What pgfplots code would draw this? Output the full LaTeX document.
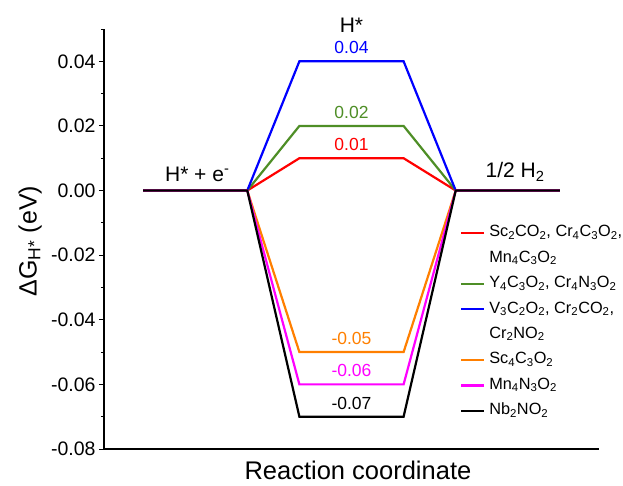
\documentclass[border=0pt]{standalone}
\usepackage{pgfplots}
\pgfplotsset{compat=1.18}
\usepackage{fontspec}
\setmainfont{Liberation Sans}

\definecolor{cRed}{RGB}{255,0,0}
\definecolor{cGreen}{RGB}{78,142,38}
\definecolor{cBlue}{RGB}{0,0,255}
\definecolor{cOrange}{RGB}{255,127,0}
\definecolor{cMag}{RGB}{255,0,255}

\newcommand{\fs}[1]{\fontsize{#1bp}{#1bp}\selectfont}

\begin{document}
\begin{tikzpicture}
\useasboundingbox (-104bp,-37bp) rectangle (519bp,449bp);
\begin{axis}[
    at={(0,0)}, anchor=south west,
    scale only axis,
    width=495bp, height=420bp,
    xmin=-0.375, xmax=4.375,
    ymin=-0.08, ymax=0.05,
    axis lines*=left,
    axis line style={line width=1.1bp},
    xtick=\empty,
    ytick={-0.08,-0.06,...,0.04},
    minor ytick={-0.07,-0.05,...,0.05},
    scaled y ticks=false,
    tick align=outside,
    major tick length=5bp,
    minor tick length=3bp,
    tick style={line width=1bp, black},
    /pgf/number format/.cd, fixed, fixed zerofill, precision=2, assume math mode=true,
    /pgfplots/.cd,
    yticklabel style={font=\fs{19.5}},
    xlabel={Reaction coordinate},
    xlabel style={font=\fs{25.5}, at={(axis description cs:0.513,-0.05)}, anchor=center},
    ylabel={ΔG\textsubscript{H*} (eV)},
    ylabel style={font=\fs{25}, at={(axis description cs:-0.149,0.495)}, anchor=center},
    clip=false,
    legend cell align=left,
    legend image code/.code={\draw[#1, line width=2.2bp] (0bp,0bp) -- (23bp,0bp);},
    legend style={draw=none, fill=none, inner sep=0pt,
        at={(rel axis cs:0.719,0.545)}, anchor=north west,
        row sep=0pt,
        nodes={font=\fs{16.3}, inner xsep=4bp, inner ysep=4bp, text height=12.5bp, text depth=4.9bp}},
]
\addplot[cRed, line width=2.2bp] coordinates {(0,0) (1,0) (1.5,0.01) (2.5,0.01) (3,0) (4,0)};
\addlegendentry{Sc\textsubscript{2}CO\textsubscript{2}, Cr\textsubscript{4}C\textsubscript{3}O\textsubscript{2},}
\addlegendimage{empty legend}
\addlegendentry{Mn\textsubscript{4}C\textsubscript{3}O\textsubscript{2}}
\addplot[cGreen, line width=2.2bp] coordinates {(0,0) (1,0) (1.5,0.02) (2.5,0.02) (3,0) (4,0)};
\addlegendentry{Y\textsubscript{4}C\textsubscript{3}O\textsubscript{2}, Cr\textsubscript{4}N\textsubscript{3}O\textsubscript{2}}
\addplot[cBlue, line width=2.2bp] coordinates {(0,0) (1,0) (1.5,0.04) (2.5,0.04) (3,0) (4,0)};
\addlegendentry{V\textsubscript{3}C\textsubscript{2}O\textsubscript{2}, Cr\textsubscript{2}CO\textsubscript{2},}
\addlegendimage{empty legend}
\addlegendentry{Cr\textsubscript{2}NO\textsubscript{2}}
\addplot[cOrange, line width=2.2bp] coordinates {(0,0) (1,0) (1.5,-0.05) (2.5,-0.05) (3,0) (4,0)};
\addlegendentry{Sc\textsubscript{4}C\textsubscript{3}O\textsubscript{2}}
\addplot[cMag, line width=2.2bp] coordinates {(0,0) (1,0) (1.5,-0.06) (2.5,-0.06) (3,0) (4,0)};
\addlegendentry{Mn\textsubscript{4}N\textsubscript{3}O\textsubscript{2}}
\addplot[black, line width=2.2bp] coordinates {(0,0) (1,0) (1.5,-0.07) (2.5,-0.07) (3,0) (4,0)};
\addlegendentry{Nb\textsubscript{2}NO\textsubscript{2}}

% value labels
\node[cBlue, anchor=base, font=\fs{17.5}] at (axis cs:2,0.0423) {0.04};
\node[cGreen, anchor=base, font=\fs{17.5}] at (axis cs:2,0.0223) {0.02};
\node[cRed, anchor=base, font=\fs{17.5}] at (axis cs:2,0.0123) {0.01};
\node[cOrange, anchor=base, font=\fs{17.5}] at (axis cs:2,-0.0477) {-0.05};
\node[cMag, anchor=base, font=\fs{17.5}] at (axis cs:2,-0.0577) {-0.06};
\node[black, anchor=base, font=\fs{17.5}] at (axis cs:2,-0.0677) {-0.07};
% state labels
\node[anchor=base, font=\fs{21}] at (axis cs:2,0.049) {H*};
\node[anchor=base, font=\fs{21}] at (axis cs:0.52,0.0029) {H* + e\textsuperscript{-}};
\node[anchor=base, font=\fs{21}] at (axis cs:3.57,0.0039) {1/2 H\textsubscript{2}};
\end{axis}
\end{tikzpicture}
\end{document}
